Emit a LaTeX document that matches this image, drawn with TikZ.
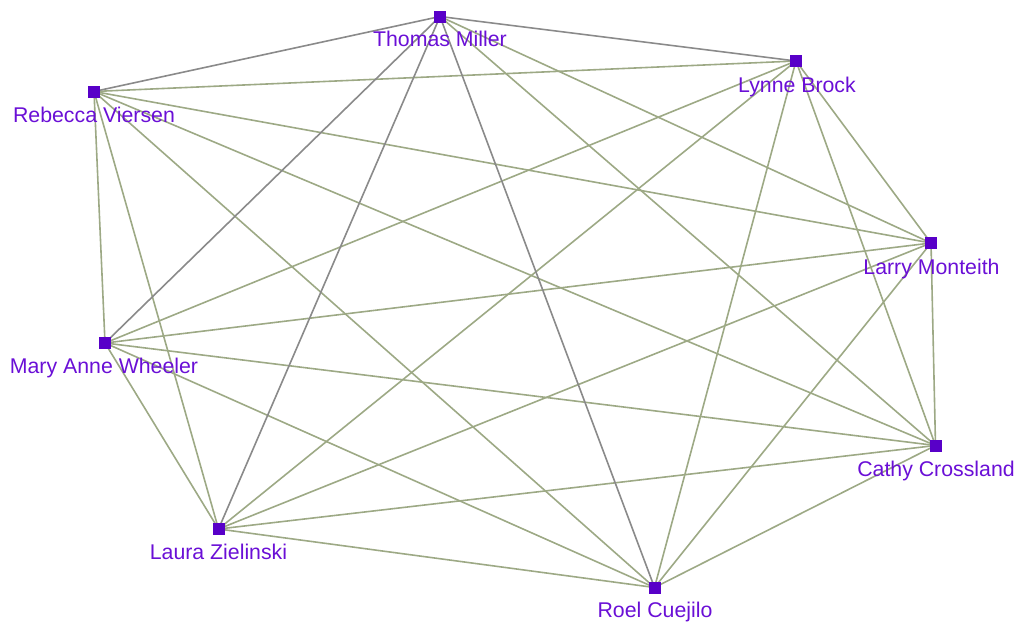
\documentclass[tikz,border=0pt]{standalone}
\usepackage{fontspec}
\setmainfont{Liberation Sans}
\begin{document}
\begin{tikzpicture}[x=1pt,y=-1pt,
  personbox/.style={draw=none,fill=nodepurple,minimum size=12pt,inner sep=0pt,outer sep=0pt},
  personlabel/.style={anchor=base,text=textpurple,font=\fontsize{21.3}{25}\selectfont,inner sep=0pt},
  greenedge/.style={draw=edgegreen,line width=1.6pt},
  grayedge/.style={draw=edgegray,line width=1.6pt}]
\definecolor{nodepurple}{HTML}{5800C8}
\definecolor{textpurple}{HTML}{6A0FD6}
\definecolor{edgegreen}{HTML}{9DA985}
\definecolor{edgegray}{HTML}{8A8A8A}
\useasboundingbox (0,0) rectangle (1019,624);
\coordinate (TM) at (440,16.5);
\coordinate (RV) at (94,91.5);
\coordinate (LB) at (796,61);
\coordinate (LM) at (931,243);
\coordinate (MW) at (105,343);
\coordinate (CC) at (935.5,445.5);
\coordinate (LZ) at (218.5,529);
\coordinate (RC) at (654.5,587.5);
% edges
\foreach \a/\b in {RV/LB,RV/LM,RV/MW,RV/CC,RV/LZ,RV/RC,
  LB/LM,LB/MW,LB/CC,LB/LZ,LB/RC,
  LM/MW,LM/CC,LM/LZ,LM/RC,
  MW/CC,MW/LZ,MW/RC,
  CC/LZ,CC/RC,LZ/RC,TM/LM,TM/CC}
  \draw[greenedge] (\a) -- (\b);
\foreach \b in {RV,LB,MW,LZ,RC}
  \draw[grayedge] (TM) -- (\b);
% nodes
\node[personbox] (nTM) at (TM) {};
\node[personbox] (nRV) at (RV) {};
\node[personbox] (nLB) at (LB) {};
\node[personbox] (nLM) at (LM) {};
\node[personbox] (nMW) at (MW) {};
\node[personbox] (nCC) at (CC) {};
\node[personbox] (nLZ) at (LZ) {};
\node[personbox] (nRC) at (RC) {};
\node[personlabel] (tTM) at (440,46.5) {Thomas Miller};
\node[personlabel] (tRV) at (94,122) {Rebecca Viersen};
\node[personlabel] (tLB) at (797,92) {Lynne Brock};
\node[personlabel] (tLM) at (931.5,274) {Larry Monteith};
\node[personlabel] (tMW) at (104,373) {Mary Anne Wheeler};
\node[personlabel] (tCC) at (936,476) {Cathy Crossland};
\node[personlabel] (tLZ) at (218.5,559) {Laura Zielinski};
\node[personlabel] (tRC) at (655,617) {Roel Cuejilo};
\end{tikzpicture}
\end{document}
